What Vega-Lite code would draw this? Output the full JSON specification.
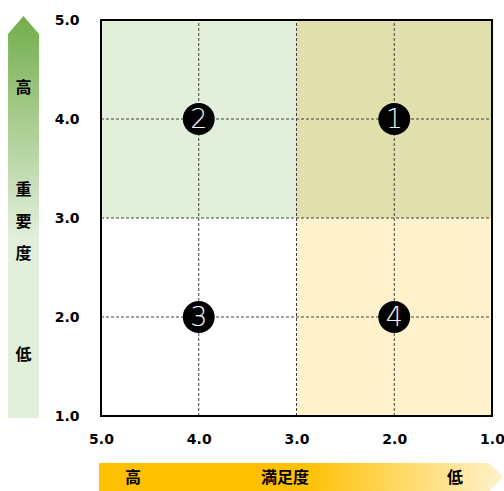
{
  "$schema": "https://vega.github.io/schema/vega-lite/v6.json",
  "width": 391,
  "height": 396,
  "autosize": {"type": "none"},
  "padding": {"left": 101, "top": 20, "right": 12, "bottom": 75},
  "background": "white",
  "config": {"view": {"stroke": null}},
  "datasets": {
    "quad": [
      {"x": 5, "x2": 3, "y": 3, "y2": 5, "c": "#e2efda"},
      {"x": 3, "x2": 1, "y": 3, "y2": 5, "c": "#dfe0ab"},
      {"x": 5, "x2": 3, "y": 1, "y2": 3, "c": "#ffffff"},
      {"x": 3, "x2": 1, "y": 1, "y2": 3, "c": "#fff2cc"}
    ],
    "grid": [
      {"x": 2, "x2": 2, "y": 1, "y2": 5},
      {"x": 3, "x2": 3, "y": 1, "y2": 5},
      {"x": 4, "x2": 4, "y": 1, "y2": 5},
      {"x": 5, "x2": 1, "y": 2, "y2": 2},
      {"x": 5, "x2": 1, "y": 3, "y2": 3},
      {"x": 5, "x2": 1, "y": 4, "y2": 4}
    ],
    "border": [{"x": 5, "x2": 1, "y": 1, "y2": 5}],
    "pts": [
      {"x": 2, "y": 4, "n": "1"},
      {"x": 4, "y": 4, "n": "2"},
      {"x": 4, "y": 2, "n": "3"},
      {"x": 2, "y": 2, "n": "4"}
    ],
    "leftArrow": [
      {"y": 0.98, "x": 5.951, "x2": 5.634},
      {"y": 4.859, "x": 5.951, "x2": 5.634},
      {"y": 5.04, "x": 5.793, "x2": 5.793}
    ],
    "bottomArrow": [
      {"x": 5.02, "y": 0.525, "y2": 0.242},
      {"x": 1.031, "y": 0.525, "y2": 0.242},
      {"x": 0.882, "y": 0.384, "y2": 0.384}
    ],
    "leftText": [
      {"x": 5.793, "y": 4.313, "t": "高"},
      {"x": 5.793, "y": 3.283, "t": "重"},
      {"x": 5.793, "y": 2.96, "t": "要"},
      {"x": 5.793, "y": 2.636, "t": "度"},
      {"x": 5.793, "y": 1.616, "t": "低"}
    ],
    "bottomText": [
      {"x": 4.673, "y": 0.374, "t": "高"},
      {"x": 3.118, "y": 0.374, "t": "満足度"},
      {"x": 1.379, "y": 0.374, "t": "低"}
    ]
  },
  "encoding": {
    "x": {
      "field": "x",
      "type": "quantitative",
      "scale": {"domain": [5, 1], "nice": false, "zero": false},
      "axis": {
        "values": [5, 4, 3, 2, 1],
        "format": ".1f",
        "title": null,
        "grid": false,
        "domain": false,
        "ticks": false,
        "tickSize": 0,
        "labelPadding": 16,
        "labelFont": "DejaVu Sans",
        "labelFontWeight": "bold",
        "labelFontSize": 14,
        "labelColor": "#000000",
        "labelFlush": false,
        "labelOverlap": false
      }
    },
    "y": {
      "field": "y",
      "type": "quantitative",
      "scale": {"domain": [1, 5], "nice": false, "zero": false},
      "axis": {
        "values": [1, 2, 3, 4, 5],
        "format": ".1f",
        "title": null,
        "grid": false,
        "domain": false,
        "ticks": false,
        "tickSize": 0,
        "labelPadding": 22,
        "labelFont": "DejaVu Sans",
        "labelFontWeight": "bold",
        "labelFontSize": 14,
        "labelColor": "#000000",
        "labelFlush": false,
        "labelOverlap": false
      }
    }
  },
  "layer": [
    {
      "data": {"name": "quad"},
      "mark": {"type": "rect", "strokeWidth": 0},
      "encoding": {
        "x2": {"field": "x2"},
        "y2": {"field": "y2"},
        "color": {"field": "c", "type": "nominal", "scale": null}
      }
    },
    {
      "data": {"name": "grid"},
      "mark": {"type": "rule", "color": "#404040", "strokeWidth": 1, "strokeDash": [3, 2]},
      "encoding": {
        "x2": {"field": "x2"},
        "y2": {"field": "y2"}
      }
    },
    {
      "data": {"name": "border"},
      "mark": {"type": "rect", "fill": null, "fillOpacity": 0, "stroke": "#000000", "strokeWidth": 2},
      "encoding": {
        "x2": {"field": "x2"},
        "y2": {"field": "y2"}
      }
    },
    {
      "data": {"name": "pts"},
      "mark": {"type": "point", "shape": "circle", "filled": true, "color": "#000000", "opacity": 1, "size": 1018, "strokeWidth": 0},
      "encoding": {}
    },
    {
      "data": {"name": "pts"},
      "mark": {"type": "text", "font": "DejaVu Sans", "fontWeight": 200, "fontSize": 27, "color": "#f2f2f2", "align": "center", "baseline": "middle", "dy": 1},
      "encoding": {"text": {"field": "n"}}
    },
    {
      "data": {"name": "leftArrow"},
      "mark": {
        "type": "area",
        "orient": "horizontal",
        "color": {
          "gradient": "linear",
          "x1": 0, "y1": 0, "x2": 0, "y2": 1,
          "stops": [
            {"offset": 0, "color": "#72ad4b"},
            {"offset": 0.55, "color": "#e2efda"},
            {"offset": 1, "color": "#e2efda"}
          ]
        }
      },
      "encoding": {"x2": {"field": "x2"}}
    },
    {
      "data": {"name": "bottomArrow"},
      "mark": {
        "type": "area",
        "orient": "vertical",
        "color": {
          "gradient": "linear",
          "x1": 0, "y1": 0, "x2": 1, "y2": 0,
          "stops": [
            {"offset": 0, "color": "#ffc000"},
            {"offset": 0.5, "color": "#ffc000"},
            {"offset": 1, "color": "#fff2cc"}
          ]
        }
      },
      "encoding": {"y2": {"field": "y2"}}
    },
    {
      "data": {"name": "leftText"},
      "mark": {"type": "text", "font": "Noto Sans CJK JP", "fontWeight": "bold", "fontSize": 16, "color": "#000000", "align": "center", "baseline": "middle"},
      "encoding": {"text": {"field": "t"}}
    },
    {
      "data": {"name": "bottomText"},
      "mark": {"type": "text", "font": "Noto Sans CJK JP", "fontWeight": "bold", "fontSize": 16, "color": "#000000", "align": "center", "baseline": "middle"},
      "encoding": {"text": {"field": "t"}}
    }
  ]
}
